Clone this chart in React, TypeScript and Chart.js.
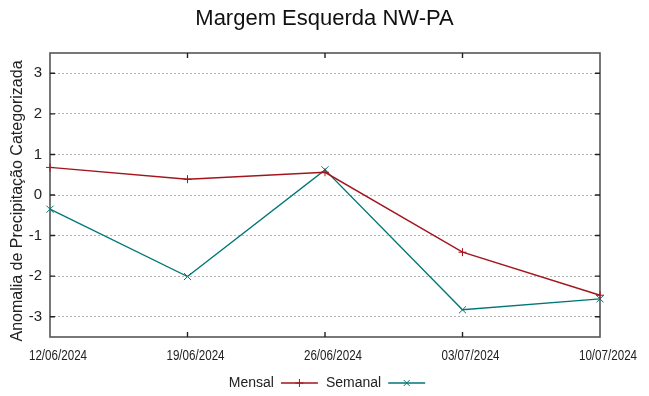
import React, { useEffect, useRef } from "react";
import { Chart, registerables } from "chart.js";

Chart.register(...registerables);

const categories = ["12/06/2024", "19/06/2024", "26/06/2024", "03/07/2024", "10/07/2024"];
const mensal = [0.68, 0.39, 0.56, -1.41, -2.47];
const semanal = [-0.35, -2.01, 0.62, -2.83, -2.56];
const yTicks = [-3, -2, -1, 0, 1, 2, 3];
const titleText = "Margem Esquerda NW-PA";
const yTitleText = "Anomalia de Precipitação Categorizada";

const RED = "#a3141c";
const TEAL = "#007676";
const FONT = "'Liberation Sans', Arial, sans-serif";

function drawMarker(ctx: CanvasRenderingContext2D, style: string, x: number, y: number, r: number) {
  ctx.beginPath();
  if (style === "cross") {
    ctx.moveTo(x - r, y);
    ctx.lineTo(x + r, y);
    ctx.moveTo(x, y - r);
    ctx.lineTo(x, y + r);
  } else {
    const d = r * 0.75;
    ctx.moveTo(x - d, y - d);
    ctx.lineTo(x + d, y + d);
    ctx.moveTo(x - d, y + d);
    ctx.lineTo(x + d, y - d);
  }
  ctx.stroke();
}

const framePlugin = {
  id: "frameTicks",
  beforeDatasetsDraw(chart: any) {
    const { ctx, chartArea } = chart;
    const { left, right, top, bottom } = chartArea;
    ctx.save();
    ctx.strokeStyle = "#555";
    ctx.lineWidth = 1.6;
    ctx.strokeRect(left, top, right - left, bottom - top);
    ctx.strokeStyle = "#222";
    ctx.lineWidth = 1.4;
    const tl = 5;
    const xs = chart.scales.x;
    const ys = chart.scales.y;
    ctx.beginPath();
    for (let i = 1; i < categories.length - 1; i++) {
      const px = xs.getPixelForValue(i);
      ctx.moveTo(px, bottom);
      ctx.lineTo(px, bottom - tl);
      ctx.moveTo(px, top);
      ctx.lineTo(px, top + tl);
    }
    for (const v of yTicks) {
      const py = ys.getPixelForValue(v);
      ctx.moveTo(left, py);
      ctx.lineTo(left + tl, py);
      ctx.moveTo(right, py);
      ctx.lineTo(right - tl, py);
    }
    ctx.stroke();
    ctx.restore();
  },
  afterDraw(chart: any) {
    const { ctx, chartArea } = chart;
    const xs = chart.scales.x;

    // y axis title
    ctx.save();
    ctx.font = `16px ${FONT}`;
    ctx.fillStyle = "#222";
    ctx.textAlign = "center";
    ctx.textBaseline = "middle";
    ctx.translate(18, (chartArea.top + chartArea.bottom) / 2 + 6);
    ctx.rotate(-Math.PI / 2);
    ctx.fillText(yTitleText, 0, 0);
    ctx.restore();

    // condensed x tick labels
    ctx.save();
    ctx.font = `14px ${FONT}`;
    ctx.fillStyle = "#222";
    ctx.textAlign = "center";
    ctx.textBaseline = "middle";
    chart.data.labels.forEach((lab: string, i: number) => {
      const px = xs.getPixelForValue(i) + 8;
      ctx.save();
      ctx.translate(px, chartArea.bottom + 19);
      ctx.scale(0.83, 1);
      ctx.fillText(lab, 0, 0);
      ctx.restore();
    });
    ctx.restore();

    // legend
    ctx.save();
    ctx.font = `14px ${FONT}`;
    ctx.textBaseline = "middle";
    ctx.fillStyle = "#222";
    const items = chart.data.datasets.map((ds: any) => ({
      label: ds.label,
      color: ds.borderColor,
      style: ds.pointStyle,
      w: ctx.measureText(ds.label).width,
    }));
    const lineW = 37;
    const gapTL = 7;
    const gapItem = 8;
    let total = 0;
    items.forEach((it: any, i: number) => {
      total += it.w + gapTL + lineW + (i < items.length - 1 ? gapItem : 0);
    });
    let x = 327 - total / 2;
    const y = 383;
    items.forEach((it: any) => {
      ctx.fillStyle = "#222";
      ctx.textAlign = "left";
      ctx.fillText(it.label, x, y);
      x += it.w + gapTL;
      ctx.strokeStyle = it.color;
      ctx.lineWidth = 1.3;
      ctx.beginPath();
      ctx.moveTo(x, y);
      ctx.lineTo(x + lineW, y);
      ctx.stroke();
      ctx.lineWidth = 1;
      drawMarker(ctx, it.style, x + lineW / 2, y, 4);
      x += lineW + gapItem;
    });
    ctx.restore();
  },
};

export default function App() {
  const ref = useRef<HTMLCanvasElement | null>(null);
  useEffect(() => {
    document.body.style.margin = "0";
    const canvas = ref.current!;
    const chart = new Chart(canvas, {
      type: "line",
      data: {
        labels: categories,
        datasets: [
          {
            label: "Mensal",
            data: mensal,
            borderColor: RED,
            backgroundColor: RED,
            borderWidth: 1.4,
            pointStyle: "cross",
            pointRadius: 4,
            pointBorderWidth: 1,
            tension: 0,
          },
          {
            label: "Semanal",
            data: semanal,
            borderColor: TEAL,
            backgroundColor: TEAL,
            borderWidth: 1.4,
            pointStyle: "crossRot",
            pointRadius: 5,
            pointBorderWidth: 1,
            tension: 0,
          },
        ],
      },
      options: {
        responsive: false,
        animation: false,
        layout: { padding: { left: 0, right: 0, top: 0, bottom: 0 } },
        plugins: {
          legend: { display: false },
          tooltip: { enabled: false },
          title: {
            display: true,
            text: titleText,
            color: "#111",
            font: { family: FONT, size: 22, weight: "normal" },
            padding: { top: 6, bottom: 20.6 },
          },
        },
        scales: {
          x: {
            type: "category",
            offset: false,
            grid: { display: false, drawTicks: false },
            border: { display: false },
            ticks: { display: false },
            afterFit(scale: any) {
              scale.height = 59;
            },
          },
          y: {
            min: -3.5,
            max: 3.5,
            grid: { color: "#b4b4b4", lineWidth: 1, drawTicks: false },
            border: { display: false, dash: [2, 2] },
            ticks: {
              color: "#222",
              font: { family: FONT, size: 15 },
              padding: 8,
            },
            afterBuildTicks(scale: any) {
              scale.ticks = yTicks.map((v) => ({ value: v }));
            },
            title: { display: false },
            afterFit(scale: any) {
              scale.width = 50;
            },
          },
          yRight: {
            position: "right",
            min: -3.5,
            max: 3.5,
            grid: { display: false, drawTicks: false },
            border: { display: false },
            ticks: { display: false },
            afterFit(scale: any) {
              scale.width = 49;
            },
          },
        },
      },
      plugins: [framePlugin],
    } as any);
    return () => chart.destroy();
  }, []);
  return <canvas ref={ref} width={649} height={396} style={{ display: "block" }} />;
}
